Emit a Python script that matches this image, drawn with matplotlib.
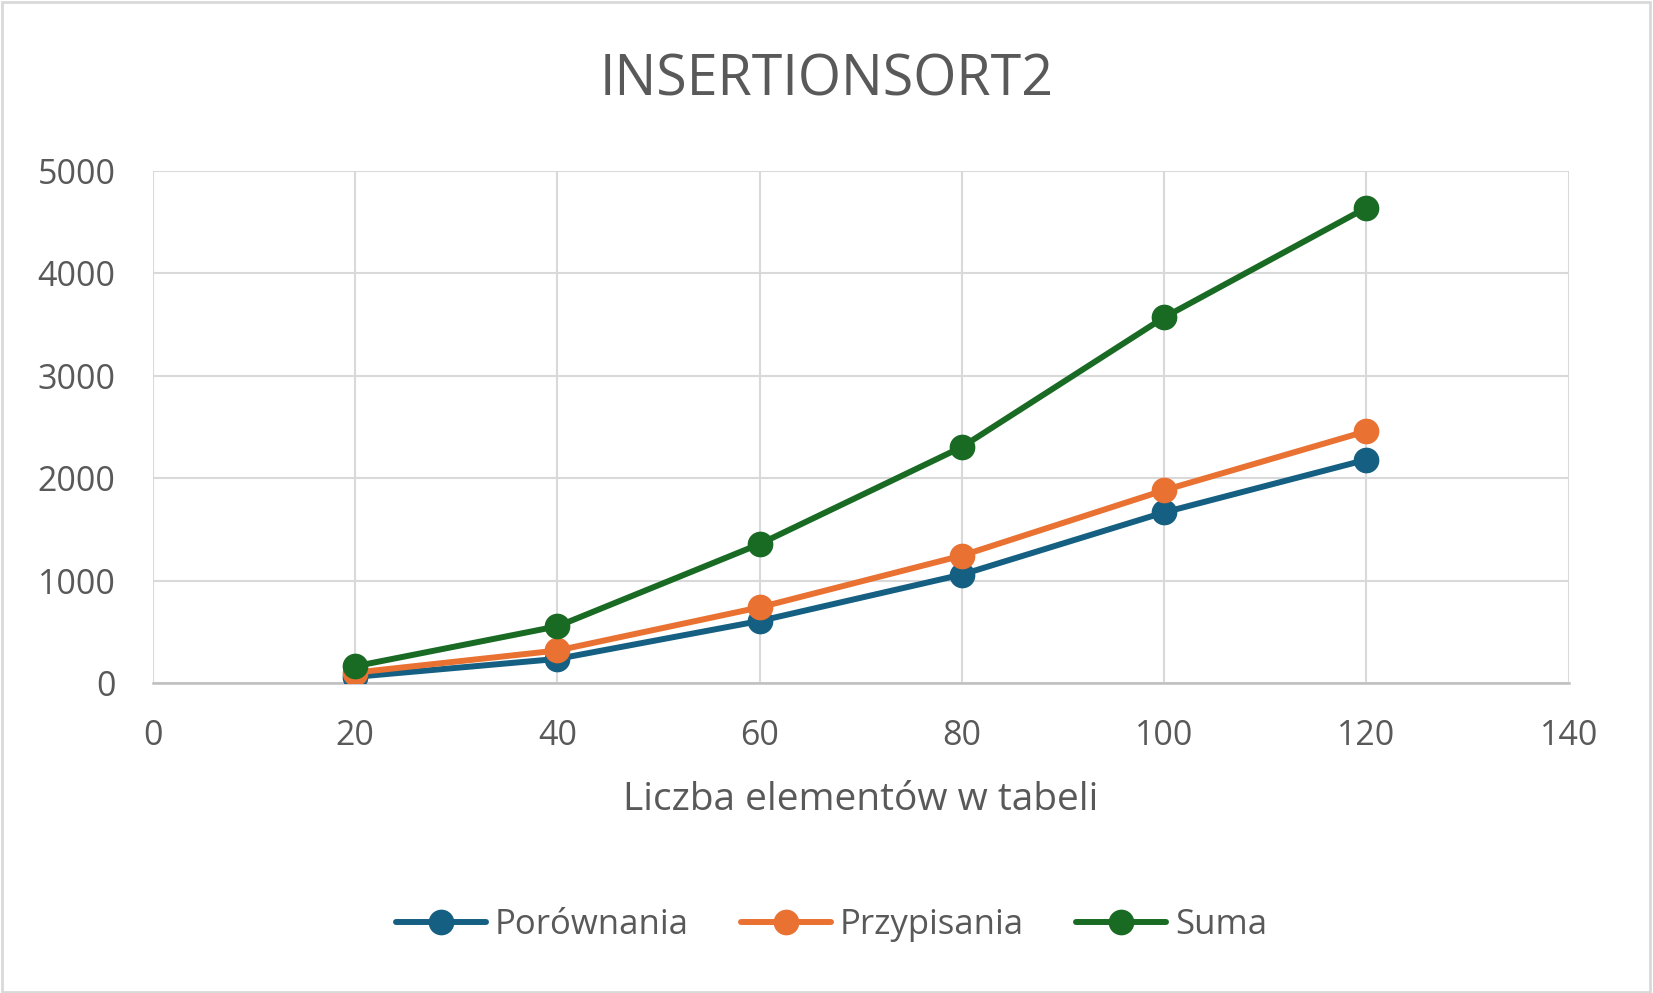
import matplotlib.pyplot as plt
from matplotlib.patches import Rectangle

plt.rcParams['font.family'] = ['Open Sans', 'DejaVu Sans']

n = [20, 40, 60, 80, 100, 120]
porownania = [62, 237, 607, 1060, 1667, 2181]
przypisania = [103, 319, 740, 1245, 1883, 2459]
suma = [165, 555, 1358, 2305, 3570, 4640]

names = ['Porównania', 'Przypisania', 'Suma']
colors = ['#156082', '#E97132', '#196B24']
text_col = '#595959'

fig = plt.figure(figsize=(16.53, 9.93), dpi=100)
ax = fig.add_axes([0.0925, 0.312, 0.8565, 0.516])

for ys, name, c in zip([porownania, przypisania, suma], names, colors):
    ax.plot(n, ys, color=c, lw=4.3, marker='o', markersize=17.5, label=name,
            solid_capstyle='round', zorder=3)

ax.set_xlim(0, 140)
ax.set_ylim(0, 5000)
ax.set_xticks(range(0, 141, 20))
ax.set_yticks(range(0, 5001, 1000))
ax.grid(True, color='#d9d9d9', lw=1.5)
for s in ['top', 'right', 'left']:
    ax.spines[s].set_visible(False)
ax.spines['bottom'].set_color('#bfbfbf')
ax.spines['bottom'].set_linewidth(1.8)
ax.tick_params(length=0, labelsize=24.5, labelcolor=text_col, pad=26)
ax.tick_params(axis='y', pad=27)

ax.set_xlabel('Liczba elementów w tabeli', fontsize=28, color=text_col, labelpad=20)
fig.text(0.5, 0.918, 'INSERTIONSORT2', ha='center', va='center', fontsize=40, color=text_col)

fig.legend(loc='center', bbox_to_anchor=(0.503, 0.068), ncol=3, frameon=False,
           fontsize=25, labelcolor=text_col, handlelength=2.6, handletextpad=0.25,
           columnspacing=1.5)

fig.patches.append(Rectangle((0.001, 0.001), 0.997, 0.997, transform=fig.transFigure,
                             fill=False, edgecolor='#d9d9d9', lw=2))

fig.savefig('out.png', dpi=100)
